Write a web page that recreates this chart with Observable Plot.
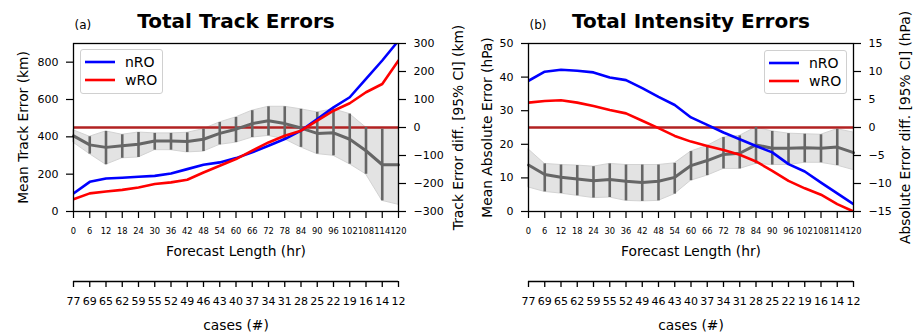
<!DOCTYPE html>
<html>
<head>
<meta charset="utf-8">
<script src="https://cdn.jsdelivr.net/npm/d3@7"></script>
<script src="https://cdn.jsdelivr.net/npm/@observablehq/plot@0.6"></script>
<style>
  html, body { margin: 0; padding: 0; background: white; }
  #root { position: relative; width: 913px; height: 333px; background: white; font-family: "DejaVu Sans", sans-serif; overflow: hidden; }
  .layer { position: absolute; }
  .legend { position: absolute; background: rgba(255,255,255,0.8); border: 1px solid #d0d0d0; border-radius: 3px; box-sizing: border-box; }
</style>
</head>
<body>
<div id="root"></div>
<script>
// ---------- data ----------
const hours = [0, 6, 12, 18, 24, 30, 36, 42, 48, 54, 60, 66, 72, 78, 84, 90, 96, 102, 108, 114, 120];
const cases = [77, 69, 65, 62, 59, 55, 52, 49, 46, 43, 40, 37, 34, 31, 28, 25, 22, 19, 16, 14, 12];
const seriesNames = ["nRO", "wRO"];

// (a) Track errors (km)
const trackNRO = [97, 159, 177, 181, 186, 191, 204, 227, 250, 263, 286, 317, 352, 388, 433, 495, 558, 612, 710, 809, 915];
const trackWRO = [66, 97, 107, 116, 129, 147, 156, 170, 209, 245, 281, 326, 370, 406, 433, 487, 540, 580, 639, 683, 809];
const trackDiff = [-30, -62, -71, -65, -60, -48, -48, -50, -42, -21, -6, 14, 24, 14, -2, -21, -19, -42, -83, -133, -133];
const trackHi = [-10, -33, -14, -26, -18, -21, -21, -19, -6, 18, 36, 60, 74, 74, 65, 54, 65, 48, 0, -6, -6];
const trackLo = [-54, -95, -133, -110, -107, -81, -81, -89, -86, -62, -54, -36, -30, -42, -71, -95, -101, -131, -167, -262, -276];

// (b) Intensity errors (hPa)
const intNRO = [38.9, 41.6, 42.2, 41.9, 41.4, 39.9, 39.1, 36.7, 34.1, 31.7, 28.0, 25.8, 23.5, 21.5, 19.5, 17.6, 14.1, 11.9, 8.6, 5.4, 2.2];
const intWRO = [32.4, 32.9, 33.1, 32.4, 31.4, 30.2, 29.2, 27.0, 24.8, 22.5, 20.8, 19.5, 18.3, 16.9, 14.9, 12.1, 9.1, 6.9, 5.0, 2.2, 0.0];
const intDiff = [-6.7, -8.4, -8.9, -9.2, -9.5, -9.3, -9.6, -9.8, -9.6, -8.9, -6.8, -5.9, -4.8, -4.6, -3.1, -3.7, -3.7, -3.6, -3.7, -3.5, -4.5];
const intHi = [-3.9, -6.5, -6.7, -6.8, -7.0, -6.5, -6.7, -6.7, -6.7, -6.4, -4.3, -3.3, -1.8, -1.5, 0.0, -0.7, -1.1, -1.2, -1.3, -0.3, -0.9];
const intLo = [-10.7, -11.5, -11.8, -12.2, -12.6, -12.5, -13.1, -13.2, -13.1, -11.9, -9.5, -8.6, -7.4, -7.4, -6.5, -6.7, -6.7, -6.3, -6.3, -6.8, -7.6];

const trackMainTicks = [0, 200, 400, 600, 800];
const trackDiffTicks = [-300, -200, -100, 0, 100, 200, 300];
const intMainTicks = [0, 10, 20, 30, 40, 50];
const intDiffTicks = [-15, -10, -5, 0, 5, 10, 15];

const colors = {nRO: "#0000ff", wRO: "#ff0000"};

// ---------- helpers ----------
const root = document.getElementById("root");
const FONT = "'DejaVu Sans', sans-serif";
const baseStyle = {background: "transparent", overflow: "visible", fontFamily: FONT, fontSize: "11px", color: "black"};

function place(el, left, top) {
  const d = document.createElement("div");
  d.className = "layer";
  d.style.left = left + "px";
  d.style.top = top + "px";
  d.appendChild(el);
  root.appendChild(d);
}

function legend(left, top, width, height) {
  const div = document.createElement("div");
  div.className = "legend";
  div.style.left = left + "px";
  div.style.top = top + "px";
  div.style.width = width + "px";
  div.style.height = height + "px";
  const ns = "http://www.w3.org/2000/svg";
  const svg = document.createElementNS(ns, "svg");
  svg.setAttribute("width", width);
  svg.setAttribute("height", height);
  svg.style.position = "absolute"; svg.style.left = "-1px"; svg.style.top = "-1px";
  seriesNames.forEach((name, i) => {
    const y = 13 + i * 18;
    const ln = document.createElementNS(ns, "line");
    ln.setAttribute("x1", 5); ln.setAttribute("x2", 35);
    ln.setAttribute("y1", y); ln.setAttribute("y2", y);
    ln.setAttribute("stroke", colors[name]); ln.setAttribute("stroke-width", 2.6);
    svg.appendChild(ln);
    const tx = document.createElementNS(ns, "text");
    tx.setAttribute("x", 45); tx.setAttribute("y", y + 5);
    tx.setAttribute("font-size", 14); tx.setAttribute("font-family", "DejaVu Sans");
    tx.textContent = name;
    svg.appendChild(tx);
  });
  div.appendChild(svg);
  root.appendChild(div);
}

function panel(o) {
  const table = hours.map((h, i) => ({h, nro: o.nro[i], wro: o.wro[i], diff: o.diff[i], lo: o.lo[i], hi: o.hi[i]}));
  const common = {
    width: o.width, height: 265,
    marginLeft: o.mL, marginRight: o.mR, marginTop: 43, marginBottom: 54,
    style: baseStyle
  };
  // difference layer (right axis)
  const diffPlot = Plot.plot({
    ...common,
    x: {domain: [0, 120], axis: null},
    y: {domain: o.diffDomain, axis: null},
    marks: [
      Plot.areaY(table, {x: "h", y1: "lo", y2: "hi", fill: "#e3e3e3", stroke: "#d3d3d3", strokeWidth: 1}),
      Plot.ruleY([0], {stroke: "#b22222", strokeWidth: 2.6}),
      Plot.line(table, {x: "h", y: "diff", stroke: "#666666", strokeWidth: 3}),
      Plot.ruleX(table.filter(d => d.h > 0 && d.h < 120), {x: "h", y1: "lo", y2: "hi", stroke: "#666666", strokeWidth: 2.6}),
      Plot.axisY({anchor: "right", ticks: o.diffTicks, tickSize: 7, tickPadding: 8, fontSize: 11, strokeWidth: 1.2, label: null}),
      Plot.text([o.diffLabel], {text: d => d, frameAnchor: "right", textAnchor: "middle", lineAnchor: "middle", dx: o.diffLabelDx, rotate: -90, fontSize: 13.8, fill: "black"})
    ]
  });
  // main layer (left axis)
  const mainPlot = Plot.plot({
    ...common,
    x: {domain: [0, 120], axis: null},
    y: {domain: o.mainDomain, axis: null},
    marks: [
      Plot.line(table, {x: "h", y: "nro", stroke: colors.nRO, strokeWidth: 2.6, clip: true}),
      Plot.line(table, {x: "h", y: "wro", stroke: colors.wRO, strokeWidth: 2.6, clip: true}),
      Plot.frame({stroke: "black", strokeWidth: 1.3}),
      Plot.axisY({anchor: "left", ticks: o.mainTicks, tickSize: 7, tickPadding: 8, fontSize: 11, strokeWidth: 1.2, label: null}),
      Plot.axisX({anchor: "bottom", ticks: hours, tickSize: 7, tickPadding: 10, fontSize: 8.3, strokeWidth: 1.2, label: null}),
      Plot.text([o.mainLabel], {text: d => d, frameAnchor: "left", textAnchor: "middle", lineAnchor: "middle", dx: o.mainLabelDx, rotate: -90, fontSize: 13.8, fill: "black"}),
      Plot.text(["Forecast Length (hr)"], {text: d => d, frameAnchor: "bottom", lineAnchor: "middle", dy: 40, fontSize: 13.8, fill: "black"}),
      Plot.text([o.title], {text: d => d, frameAnchor: "top", lineAnchor: "middle", dy: -22, fontSize: 20, fontWeight: "bold", fill: "black"}),
      Plot.text([o.tag], {text: d => d, frameAnchor: "top-left", textAnchor: "start", lineAnchor: "middle", dx: 1, dy: -18, fontSize: 12, fill: "black"})
    ]
  });
  // cases axis
  const casesPlot = Plot.plot({
    width: o.width, height: 68,
    marginLeft: o.mL, marginRight: o.mR, marginTop: 6, marginBottom: 52,
    style: baseStyle,
    x: {domain: [0, 120], axis: null},
    y: {domain: [0, 1], axis: null},
    marks: [
      Plot.ruleY([0], {stroke: "black", strokeWidth: 1.5}),
      Plot.axisX({anchor: "bottom", ticks: hours, tickFormat: d => String(cases[hours.indexOf(d)]), tickSize: 6, tickPadding: 10, fontSize: 11, strokeWidth: 1.3, label: null}),
      Plot.text(["cases (#)"], {text: d => d, frameAnchor: "bottom", lineAnchor: "middle", dy: 44, fontSize: 13.8, fill: "black"})
    ]
  });
  place(diffPlot, o.left, 0);
  place(mainPlot, o.left, 0);
  place(casesPlot, o.left, 265);
}

panel({
  left: 0, width: 470, mL: 73, mR: 72,
  nro: trackNRO, wro: trackWRO, diff: trackDiff, lo: trackLo, hi: trackHi,
  mainDomain: [0, 900], mainTicks: trackMainTicks,
  diffDomain: [-300, 300], diffTicks: trackDiffTicks,
  mainLabel: "Mean Track Error (km)", mainLabelDx: -50,
  diffLabel: "Track Error diff. [95% CI] (km)", diffLabelDx: 60,
  title: "Total Track Errors", tag: "(a)"
});
panel({
  left: 455, width: 458, mL: 73, mR: 60,
  nro: intNRO, wro: intWRO, diff: intDiff, lo: intLo, hi: intHi,
  mainDomain: [0, 50], mainTicks: intMainTicks,
  diffDomain: [-15, 15], diffTicks: intDiffTicks,
  mainLabel: "Mean Absolute Error (hPa)", mainLabelDx: -41,
  diffLabel: "Absolute Error diff. [95% CI] (hPa)", diffLabelDx: 52,
  title: "Total Intensity Errors", tag: "(b)"
});
legend(80, 49, 83, 45);
legend(764, 50, 83, 44);
</script>
</body>
</html>
